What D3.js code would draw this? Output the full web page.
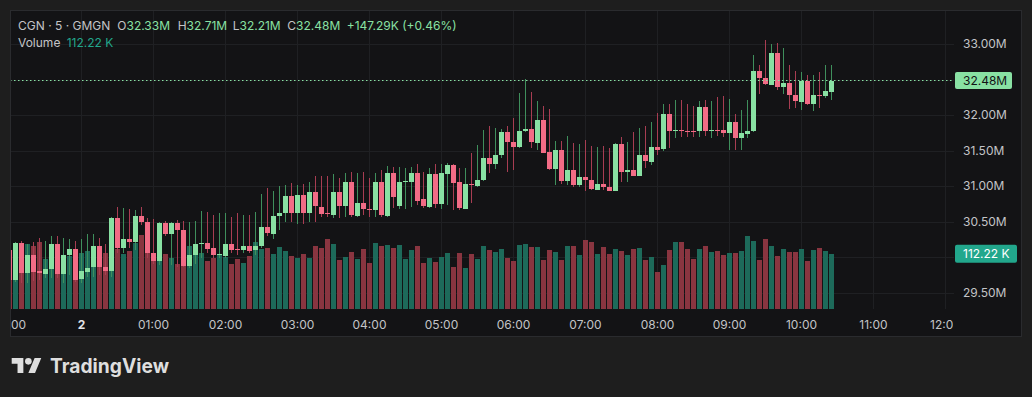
<!DOCTYPE html>
<html><head><meta charset="utf-8">
<script src="https://cdn.jsdelivr.net/npm/d3@7/dist/d3.min.js"></script>
<style>
html,body{margin:0;padding:0;background:#1e1e1e;overflow:hidden;}
svg{display:block;font-family:Inter,"Noto Sans",sans-serif;}
</style>
</head><body>
<svg id="c" width="1032" height="397"></svg>
<script>
// ---- data (5-minute candles, first bar 23:00 on day 1) ----
const startTime = new Date(2025, 0, 1, 23, 0);
const barMinutes = 5;
const open = [30.10,29.68,30.20,29.78,30.03,29.80,29.76,29.83,30.18,29.76,30.03,30.11,
29.69,29.80,29.85,30.15,29.86,29.81,30.55,30.13,30.25,30.21,30.58,30.50,
30.06,29.95,30.48,30.33,30.48,30.38,29.87,30.03,30.18,30.20,30.12,30.02,
30.02,30.19,30.11,30.10,30.16,30.09,30.15,30.42,30.33,30.58,30.62,30.86,
30.62,30.88,30.62,30.91,30.71,30.62,30.59,30.91,30.71,31.05,30.58,30.76,
30.68,30.66,31.06,30.59,31.19,30.72,31.05,31.06,31.19,30.81,30.70,31.17,
30.75,31.17,31.30,31.05,30.68,31.03,31.00,31.08,31.39,31.31,31.44,31.76,
31.62,31.55,31.77,31.80,31.61,31.93,31.48,31.24,31.51,31.07,31.22,31.01,
31.12,31.08,30.95,31.03,30.99,30.93,31.59,31.19,31.22,31.14,31.43,31.34,
31.55,31.51,32.01,31.77,31.79,31.78,31.78,31.77,32.11,31.77,31.79,31.79,
31.75,31.90,31.68,31.74,31.77,32.62,32.52,32.43,32.88,32.40,32.45,32.28,
32.19,32.48,32.15,32.28,32.27,32.33];
const high = [30.15,30.21,30.22,30.19,30.21,30.27,30.23,30.29,30.30,30.27,30.26,30.23,
30.26,30.33,30.33,30.27,30.19,30.56,30.71,30.69,30.68,30.66,30.70,30.55,
30.53,30.50,30.51,30.50,30.52,30.51,30.50,30.51,30.65,30.64,30.59,30.62,
30.62,30.57,30.62,30.59,30.59,30.64,30.89,30.97,30.93,31.00,31.01,31.04,
31.01,31.03,31.06,31.14,31.14,31.14,31.17,31.11,31.19,31.20,31.19,31.20,
31.11,31.18,31.23,31.28,31.27,31.27,31.25,31.27,31.31,31.20,31.26,31.31,
31.31,31.32,31.31,31.26,31.25,31.47,31.58,31.79,31.84,31.81,31.80,31.84,
31.96,32.31,32.51,32.32,32.20,32.13,32.09,31.63,31.63,31.70,31.60,31.59,
31.65,31.56,31.55,31.56,31.54,31.60,31.69,31.62,31.76,31.82,31.85,31.90,
32.03,32.16,32.16,32.21,32.21,32.15,32.12,32.20,32.21,32.20,32.26,32.27,
32.23,32.01,32.07,32.21,32.84,32.70,33.06,33.00,33.01,32.94,32.70,32.62,
32.60,32.56,32.56,32.61,32.70,32.71];
const low = [29.64,29.65,29.64,29.64,29.66,29.68,29.71,29.71,29.70,29.64,29.75,29.65,
29.64,29.72,29.72,29.75,29.75,29.72,30.05,30.05,30.12,30.10,30.45,29.98,
29.90,29.89,30.29,29.89,29.86,29.86,29.85,29.90,29.98,30.06,29.98,29.98,
29.99,30.05,30.03,30.05,30.05,30.03,30.12,30.30,30.26,30.38,30.50,30.50,
30.47,30.47,30.50,30.50,30.57,30.57,30.55,30.55,30.57,30.57,30.57,30.59,
30.57,30.57,30.57,30.57,30.69,30.67,30.67,30.71,30.73,30.69,30.69,30.69,
30.67,30.73,30.66,30.66,30.67,30.76,30.99,31.07,31.18,31.24,31.39,31.20,
31.22,31.54,31.76,31.54,31.51,31.47,31.23,31.01,31.03,31.01,30.99,30.99,
30.93,30.94,30.94,30.94,30.93,30.93,31.05,31.06,31.14,31.14,31.25,31.30,
31.43,31.50,31.54,31.68,31.69,31.69,31.69,31.69,31.71,31.68,31.70,31.69,
31.51,31.51,31.51,31.67,31.76,32.29,32.42,32.42,32.35,32.29,32.08,32.10,
32.07,32.14,32.06,32.10,32.24,32.21];
const close = [29.68,30.20,29.78,30.03,29.79,29.77,29.83,30.18,29.76,30.03,30.11,29.68,
29.80,29.85,30.15,29.86,29.81,30.55,30.13,30.25,30.21,30.58,30.50,30.06,
29.95,30.48,30.33,30.48,30.38,29.87,30.03,30.18,30.20,30.12,30.02,30.04,
30.19,30.11,30.09,30.16,30.09,30.15,30.42,30.33,30.58,30.62,30.86,30.62,
30.88,30.62,30.91,30.71,30.61,30.61,30.91,30.71,31.05,30.58,30.76,30.68,
30.66,31.06,30.59,31.19,30.85,31.06,31.07,31.19,30.80,30.71,31.17,30.75,
31.19,31.30,31.05,30.68,31.03,31.01,31.08,31.39,31.31,31.44,31.76,31.62,
31.55,31.77,31.80,31.61,31.93,31.47,31.24,31.51,31.07,31.22,31.01,31.12,
31.08,30.95,31.03,30.99,30.93,31.59,31.19,31.22,31.14,31.43,31.34,31.55,
31.51,32.01,31.77,31.79,31.77,31.77,31.77,32.11,31.77,31.79,31.78,31.75,
31.90,31.68,31.75,31.78,32.62,32.52,32.43,32.88,32.40,32.45,32.28,32.19,
32.48,32.15,32.28,32.26,32.34,32.48];
const volumeK = [117.7,93.4,121.8,132.0,127.9,136.0,101.5,107.6,115.7,107.6,107.6,117.7,
113.7,117.7,117.7,123.8,113.7,93.4,121.8,111.7,117.7,134.0,149.6,127.9,
112.3,97.4,111.7,104.1,91.4,93.4,127.9,117.7,114.3,97.4,102.9,109.6,
105.6,90.7,100.9,92.8,107.6,136.6,121.8,123.2,112.3,125.9,117.7,107.6,
104.1,112.3,104.5,127.3,124.4,141.5,132.6,100.1,105.6,115.7,100.9,121.2,
92.8,134.0,127.3,129.9,123.2,129.9,101.5,119.2,127.9,92.8,104.1,96.0,
105.6,113.7,85.3,113.1,83.2,112.3,101.5,128.5,120.4,115.1,121.8,104.1,
98.0,130.5,131.3,125.3,125.3,99.5,119.2,115.1,98.5,127.9,127.3,109.0,
139.5,136.0,112.3,125.9,111.7,121.2,117.1,109.0,121.8,123.8,99.5,105.0,
75.1,89.3,119.8,136.0,136.0,122.4,102.1,122.4,127.3,115.1,117.7,109.6,
113.1,113.1,117.1,147.6,138.0,99.5,142.7,127.9,108.2,121.2,115.1,116.3,
122.4,97.4,120.4,123.8,117.1,112.22];
const priceTicks = [29.5,30.0,30.5,31.0,31.5,32.0,32.5,33.0];
const timeTickHours = [-1,0,1,2,3,4,5,6,7,8,9,10,11,12];
const header = {symbol:"CGN · 5 · GMGN", o:"32.33M", h:"32.71M", l:"32.21M", c:"32.48M", chg:"+147.29K (+0.46%)", vol:"112.22 K"};
const lastPrice = 32.48, lastVolume = 112.22;

// ---- layout ----
const svg = d3.select("#c");
const paneL = 10, paneR = 954, paneT = 10, paneB = 309;
const C = {outer:"#1e1e1e", panel:"#131315", grid:"#1f2023", text:"#c3c4c7",
  up:"#89e1a3", down:"#f26c86", upWick:"#3f8f5c", downWick:"#a83d52",
  upVol:"#1d6a5a", downVol:"#893540", volLbl:"#22a78c"};

const bars = open.map((o,i)=>({t:new Date(startTime.getTime()+i*barMinutes*60000), o, h:high[i], l:low[i], c:close[i], v:volumeK[i]}));

const day2 = new Date(2025,0,2,0,0);
const x = d3.scaleTime().domain([day2, d3.timeHour.offset(day2,12)]).range([81,945]);
const y = d3.scaleLinear().domain([29.5,33]).range([292.5,44]);
const yv = d3.scaleLinear().domain([0,150]).range([paneB, paneB-150/2.03]);

svg.append("rect").attr("width",1032).attr("height",397).attr("fill",C.outer);
svg.append("rect").attr("x",10.5).attr("y",10.5).attr("width",1011).attr("height",326)
  .attr("fill",C.panel).attr("stroke","#2a2b2e");

const defs = svg.append("defs");
defs.append("clipPath").attr("id","pane").append("rect").attr("x",paneL+1).attr("y",paneT+1).attr("width",paneR-paneL-1).attr("height",paneB-paneT-1);
defs.append("clipPath").attr("id","taxis").append("rect").attr("x",paneL+1).attr("y",paneB).attr("width",953-paneL-1).attr("height",28);

const timeTicks = timeTickHours.map(h=>d3.timeHour.offset(day2,h));
const g = svg.append("g").attr("clip-path","url(#pane)");
// grid
g.selectAll(".vg").data(timeTicks).join("line")
  .attr("x1",d=>Math.round(x(d))+0.5).attr("x2",d=>Math.round(x(d))+0.5)
  .attr("y1",paneT).attr("y2",paneB).attr("stroke",C.grid);
g.selectAll(".hg").data(priceTicks).join("line")
  .attr("x1",paneL).attr("x2",paneR)
  .attr("y1",d=>Math.round(y(d))+0.5).attr("y2",d=>Math.round(y(d))+0.5).attr("stroke",C.grid);

// volume
g.selectAll(".vol").data(bars).join("rect")
  .attr("x",d=>Math.round(x(d.t))-2).attr("width",5)
  .attr("y",d=>Math.round(yv(d.v))).attr("height",d=>paneB-Math.round(yv(d.v)))
  .attr("fill",d=>d.c>=d.o?C.upVol:C.downVol).attr("shape-rendering","crispEdges");

// wicks
g.selectAll(".wick").data(bars).join("rect")
  .attr("x",d=>Math.round(x(d.t))).attr("width",1)
  .attr("y",d=>Math.round(y(d.h))).attr("height",d=>Math.max(1,Math.round(y(d.l))-Math.round(y(d.h))))
  .attr("fill",d=>d.c>=d.o?C.upWick:C.downWick).attr("shape-rendering","crispEdges");
// bodies
g.selectAll(".body").data(bars).join("rect")
  .attr("x",d=>Math.round(x(d.t))-2).attr("width",5)
  .attr("y",d=>Math.round(Math.min(y(d.o),y(d.c))))
  .attr("height",d=>Math.max(1,Math.round(Math.abs(y(d.o)-y(d.c)))))
  .attr("fill",d=>d.c>=d.o?C.up:C.down).attr("shape-rendering","crispEdges");

// last price dotted line
const ly = Math.floor(y(lastPrice))+0.5;
g.append("line").attr("x1",paneL).attr("x2",paneR).attr("y1",ly).attr("y2",ly)
  .attr("stroke",C.up).attr("stroke-dasharray","1.5,2.5").attr("stroke-width",1);

// price axis (labels hidden under the last-value boxes are not drawn)
const labelTicks = priceTicks.filter(p=>Math.abs(y(p)-y(lastPrice))>12 && Math.abs(y(p)-yv(lastVolume))>12);
const pa = svg.append("g").attr("transform","translate(963,0)")
  .call(d3.axisRight(y).tickValues(labelTicks).tickSize(0).tickPadding(0).tickFormat(d=>d.toFixed(2)+"M"));
pa.select(".domain").remove();
pa.selectAll("text").attr("font-size",12).attr("fill",C.text).attr("font-family","Inter");

// time axis
const fmt = d3.timeFormat("%H:%M");
const taClip = svg.append("g").attr("clip-path","url(#taxis)");
const ta = taClip.append("g").attr("transform",`translate(0,320)`)
  .call(d3.axisBottom(x).tickValues(timeTicks).tickSize(0).tickPadding(0)
    .tickFormat(d=>d.getHours()===0&&d.getMinutes()===0?String(d.getDate()):fmt(d)));
ta.select(".domain").remove();
ta.selectAll("text").attr("font-size",12).attr("font-family","Inter")
  .attr("fill",d=>d.getHours()===0?"#e4e4e6":C.text)
  .attr("font-weight",d=>d.getHours()===0?700:400);

// price label boxes
svg.append("rect").attr("x",955).attr("y",72).attr("width",57).attr("height",17).attr("rx",2).attr("fill",C.up);
svg.append("text").attr("x",963).attr("y",y(lastPrice)).attr("dy","0.35em").attr("font-size",12)
  .attr("fill","#131315").text(lastPrice.toFixed(2)+"M");
svg.append("rect").attr("x",955).attr("y",yv(lastVolume)-9).attr("width",62).attr("height",18).attr("rx",2).attr("fill",C.volLbl);
svg.append("text").attr("x",963).attr("y",yv(lastVolume)).attr("dy","0.35em").attr("font-size",12)
  .attr("fill","#ffffff").text(lastVolume.toFixed(2)+" K");

// header
const hd = svg.append("g").attr("font-size",12);
hd.append("text").attr("x",18).attr("y",30).attr("fill",C.text).text(header.symbol);
[["O",header.o,117.3],["H",header.h,177.7],["L",header.l,232.7],["C",header.c,287.3]].forEach(([k,v,px])=>{
  const t = hd.append("text").attr("x",px).attr("y",30);
  t.append("tspan").attr("fill",C.text).text(k);
  t.append("tspan").attr("fill",C.up).text(v);
});
hd.append("text").attr("x",346.7).attr("y",30).attr("fill",C.up).text(header.chg);
hd.append("text").attr("x",18).attr("y",46.7).attr("fill",C.text).text("Volume");
hd.append("text").attr("x",66.7).attr("y",46.7).attr("fill",C.volLbl).text(header.vol);

// TradingView logo
const lg = svg.append("g").attr("transform","translate(11.7,354.7) scale(0.833)").attr("fill","#dedede");
lg.append("path").attr("d","M14 22H7V11H0V4h14v18zM28 22h-8l7.5-18h8L28 22z");
lg.append("circle").attr("cx",20).attr("cy",8).attr("r",4);
svg.append("text").attr("x",50).attr("y",373).attr("font-size",19.5).attr("font-weight",700)
  .attr("fill","#dedede").attr("textLength",119).attr("lengthAdjust","spacingAndGlyphs").text("TradingView");
</script>
</body></html>
